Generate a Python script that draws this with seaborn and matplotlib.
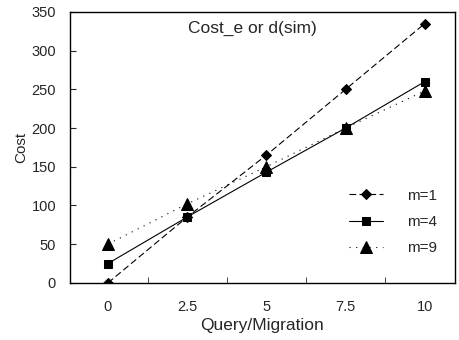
import matplotlib
matplotlib.use("Agg")
import matplotlib.pyplot as plt
import seaborn as sns
import pandas as pd

categories = ["0", "2.5", "5", "7.5", "10"]
m1 = [0, 85, 165, 250, 335]
m4 = [25, 85, 143, 200, 260]
m9 = [50, 102, 150, 200, 248]
series_names = ["m=1", "m=4", "m=9"]

sns.set_style("white")
plt.rcParams["font.family"] = ["Liberation Sans", "DejaVu Sans"]

rows = []
for name, vals in zip(series_names, [m1, m4, m9]):
    for i, v in enumerate(vals):
        rows.append({"x": i, "Cost": v, "series": name})
df = pd.DataFrame(rows)

fig = plt.figure(figsize=(4.6, 3.4), dpi=100)
ax = fig.add_axes([0.152, 0.168, 0.837, 0.797])

styles = {"m=1": dict(marker="D", ls=(0, (6, 3)), ms=5),
          "m=4": dict(marker="s", ls="-", ms=6),
          "m=9": dict(marker="^", ls=(0, (1, 5)), ms=9)}
for name in series_names:
    sub = df[df.series == name]
    st = styles[name]
    sns.lineplot(data=sub, x="x", y="Cost", ax=ax, color="black", lw=0.8,
                 marker=st["marker"], markersize=st["ms"], linestyle=st["ls"],
                 markeredgecolor="black", label=name)

ax.set_xlim(-0.48, 4.38)
ax.set_ylim(0, 350)
ax.set_xticks(range(len(categories)))
ax.set_xticklabels(categories)
ax.set_xticks([0.5, 1.5, 2.5, 3.5], minor=True)
ax.tick_params(axis="x", which="major", length=0, pad=12, labelsize=10.5)
ax.tick_params(axis="x", which="minor", direction="in", length=4, bottom=True)
ax.set_yticks(range(0, 351, 50))
ax.tick_params(axis="y", direction="in", length=4, left=True, labelsize=10.5, pad=10)
ax.set_xlabel("Query/Migration", fontsize=12.5, labelpad=3)
ax.set_ylabel("Cost", fontsize=11, labelpad=2)
for s in ax.spines.values():
    s.set_color("black")
    s.set_linewidth(1)
ax.text(0.475, 0.94, "Cost_e or d(sim)", transform=ax.transAxes, ha="center",
        va="center", fontsize=12.5)
leg = ax.legend(loc="center left", bbox_to_anchor=(0.69, 0.225), frameon=False,
                fontsize=11, handlelength=2.2, labelspacing=0.8, handletextpad=1.6)
fig.savefig("out.png", dpi=100)
